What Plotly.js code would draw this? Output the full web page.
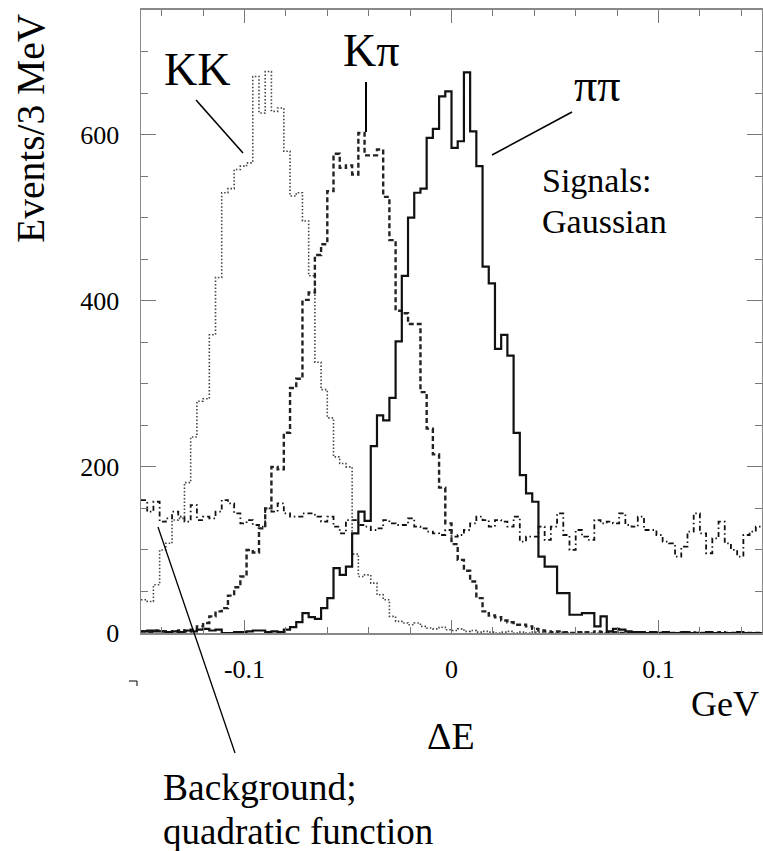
<!DOCTYPE html>
<html>
<head>
<meta charset="utf-8">
<script src="https://cdn.plot.ly/plotly-3.0.1.min.js"></script>
<style>
html,body{margin:0;padding:0;background:#fff;}
#chart{width:763px;height:851px;}
</style>
</head>
<body>
<div id="chart"></div>
<script>
// ---- data (events per 3 MeV bin, ΔE from -0.15 to 0.15 GeV) ----
const binLow = -0.15;
const binWidth = 0.003;

const piPi = [2,3,2,2,1,2,1,3,2,4,5,3,4,0,0,1,1,2,3,3,1,2,1,4,7,
  13,24,19,17,30,42,78,70,80,120,146,135,225,262,256,283,351,430,500,530,
  535,596,607,646,652,584,592,675,604,562,441,421,342,359,334,241,190,168,158,92,
  80,80,48,48,22,22,24,24,8,20,2,5,4,2,1,
  1,0,1,0,1,0,0,1,0,0,0,1,0,0,0,0,1,0,0,0];

const kPi = [2,1,3,2,1,2,3,2,4,
  8,12,20,26,30,45,55,68,100,97,126,150,200,197,241,295,306,401,410,455,468,
  532,577,560,563,552,602,575,575,582,525,473,388,385,372,372,290,246,215,175,132,
  107,88,75,62,42,26,21,19,15,13,10,10,8,5,3,
  2,1,2,1,0,1,1,0,2,1,0,1,0,1,0,0,1,0,0,1,0,0,0,1,0,0,0,0,1,0,0,0,0,0,0];

const kK = [40,38,58,100,108,136,138,181,236,279,282,359,428,530,535,558,562,566,670,626,
  676,628,632,580,526,530,496,430,326,293,259,212,204,200,95,68,70,60,46,40,
  20,14,12,10,12,8,6,5,7,4,3,5,2,
  3,1,2,1,0,1,2,0,1,0,1,1,0,0,1,0,0,0,1,0,0,0,0,1,0,0,0,0,0,1,0,0,0,0,0,0,1,0,0,0,0,0,0,0,0,0,0];

const background = [160,146,158,134,138,146,140,134,154,136,
  140,138,146,160,156,144,132,136,130,128,
  150,146,156,144,140,140,144,144,140,134,
  140,128,120,136,136,130,128,124,126,136,
  132,130,130,138,128,126,122,120,118,124,
  116,118,124,132,140,136,128,136,134,128,
  140,110,116,116,128,112,128,144,118,100,
  124,116,112,136,132,134,132,144,130,128,
  140,124,124,118,110,108,92,104,122,144,
  120,96,114,134,108,100,92,118,122,128];

const xTickVals = [-0.1, 0, 0.1];
const xTickText = ['-0.1', '0', '0.1'];
const yTickVals = [0, 200, 400, 600];
const yTickText = ['0', '200', '400', '600'];

// ---- helpers ----
function edges(n){ const e=[]; for(let i=0;i<=n;i++) e.push(+(binLow+i*binWidth).toFixed(4)); return e; }
function stepY(v){ return v.concat([v[v.length-1]]); }

const SERIF = '"Liberation Serif", "DejaVu Serif", serif';

function hist(vals, name, line){
  return {type:'scatter', mode:'lines', name:name, x:edges(vals.length), y:stepY(vals),
          line:Object.assign({shape:'hv'}, line), hoverinfo:'skip'};
}

const traces = [
  hist(background, 'Background', {color:'#111', width:1.8, dash:'5px,3px,1.5px,3px'}),
  hist(kK, 'KK', {color:'#444', width:1.6, dash:'1.5px,2px'}),
  hist(kPi, 'Kπ', {color:'#222', width:2.4, dash:'5px,3px'}),
  hist(piPi, 'ππ', {color:'#111', width:2.2})
];

// layout geometry (pixels -> paper)
const L=141, R=762, T=10, B=633;
const W=R-L, H=B-T;
function px(x){ return (x-L)/W; }
function py(y){ return (B-y)/H; }

function txt(text, x, y, size, opts){
  return Object.assign({text:text, xref:'paper', yref:'paper', x:px(x), y:py(y),
    showarrow:false, xanchor:'center', yanchor:'middle',
    font:{family:SERIF, size:size, color:'#000'}}, opts||{});
}
function seg(x0,y0,x1,y1,w){
  return {type:'line', xref:'paper', yref:'paper', x0:px(x0), y0:py(y0), x1:px(x1), y1:py(y1),
    line:{color:'#000', width:w||1.6}};
}

const layout = {
  width:763, height:851,
  margin:{l:L, r:763-R, t:T, b:851-B, pad:0},
  paper_bgcolor:'#fff', plot_bgcolor:'#fff',
  font:{family:SERIF, size:26, color:'#000'},
  showlegend:false,
  xaxis:{
    range:[-0.15, 0.15], tickmode:'array', tickvals:xTickVals, ticktext:xTickText,
    ticks:'inside', ticklen:13, tickwidth:1, tickcolor:'#777',
    minor:{tickmode:'linear', tick0:0, dtick:0.02, ticks:'inside', ticklen:6, tickwidth:1, tickcolor:'#777', showgrid:false},
    showline:true, linecolor:'#888', linewidth:2, mirror:'allticks',
    showgrid:false, zeroline:false,
    tickfont:{family:SERIF, size:26, color:'#000'}, ticklabelstandoff:12
  },
  yaxis:{
    range:[0, 750], tickmode:'array', tickvals:yTickVals, ticktext:yTickText,
    ticks:'inside', ticklen:15, tickwidth:1, tickcolor:'#777',
    minor:{tickmode:'linear', tick0:0, dtick:50, ticks:'inside', ticklen:7, tickwidth:1, tickcolor:'#777', showgrid:false},
    showline:true, linecolor:'#888', linewidth:1.5, mirror:'allticks',
    showgrid:false, zeroline:false,
    tickfont:{family:SERIF, size:26, color:'#000'}, ticklabelstandoff:15
  },
  annotations:[
    txt('Events/3 MeV', 31, 128, 39.5, {textangle:-90}),
    txt('KK', 197, 70, 46),
    txt('Kπ', 371, 51, 46),
    txt('ππ', 597, 86, 46),
    txt('Signals:', 540, 181, 34, {xanchor:'left'}),
    txt('Gaussian', 540, 221, 34, {xanchor:'left'}),
    txt('GeV', 725, 704, 36),
    txt('ΔE', 451, 736, 38),
    txt('Background;', 161, 787, 37.5, {xanchor:'left'}),
    txt('quadratic function', 161, 831, 37, {xanchor:'left'})
  ],
  shapes:[
    seg(196,100,243,153),
    seg(366,82,366,132,2),
    seg(572,112,492,155),
    seg(158,527,235,753,1.3),
    seg(129,681,137,681,1),
    seg(137,681,137,686,1)
  ]
};

Plotly.newPlot('chart', traces, layout, {staticPlot:true, displayModeBar:false});
</script>
</body>
</html>
